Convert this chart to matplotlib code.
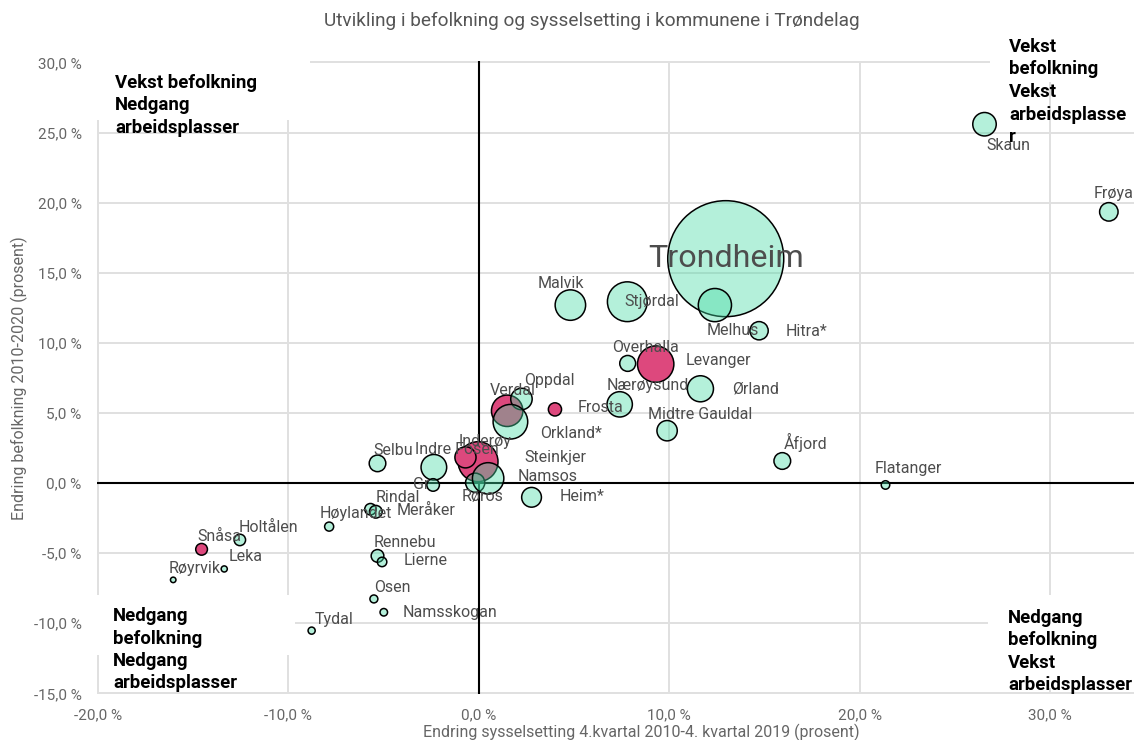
import matplotlib
matplotlib.use("Agg")
import matplotlib.pyplot as plt
from matplotlib.patches import Rectangle

plt.rcParams['font.family'] = ['Roboto', 'DejaVu Sans']

# ---------------- data ----------------
title = "Utvikling i befolkning og sysselsetting i kommunene i Trøndelag"
x_title = "Endring sysselsetting 4.kvartal 2010-4. kvartal 2019 (prosent)"
y_title = "Endring befolkning 2010-2020 (prosent)"

kommuner = ["Trondheim", "Melhus", "Hitra*", "Malvik", "Stjørdal", "Overhalla",
            "Levanger", "Nærøysund", "Ørland", "Midtre Gauldal", "Åfjord", "Skaun",
            "Frøya", "Flatanger", "Heim*", "Røros", "Namsos", "Steinkjer", "Inderøy",
            "Indre Fosen", "Selbu", "Grong", "Oppdal", "Verdal", "Orkland*", "Frosta",
            "Rindal", "Meråker", "Høylandet", "Holtålen", "Snåsa", "Leka", "Røyrvik",
            "Rennebu", "Lierne", "Osen", "Namsskogan", "Tydal"]

sysselsetting = [12.97, 12.40, 14.72, 4.81, 7.80, 7.82,
                 9.29, 7.40, 11.64, 9.89, 15.94, 26.56,
                 33.09, 21.36, 2.77, -0.19, 0.49, -0.04, -0.70,
                 -2.36, -5.32, -2.40, 2.24, 1.49, 1.66, 4.00,
                 -5.69, -5.41, -7.86, -12.55, -14.56, -13.37, -16.05,
                 -5.32, -5.08, -5.51, -4.99, -8.78]

befolkning = [16.0, 12.69, 10.86, 12.69, 12.93, 8.53,
              8.48, 5.61, 6.72, 3.73, 1.57, 25.59,
              19.34, -0.14, -1.02, 0.02, 0.33, 1.52, 1.83,
              1.12, 1.40, -0.14, 5.99, 5.15, 4.37, 5.25,
              -1.87, -2.05, -3.11, -4.06, -4.73, -6.13, -6.91,
              -5.20, -5.63, -8.27, -9.22, -10.53]

innbyggere = [205163, 16785, 5100, 14159, 24126, 3850,
              20164, 9775, 10364, 6300, 4250, 8400,
              5200, 1100, 5950, 5600, 15034, 24307, 6800,
              10014, 4200, 2400, 7000, 15038, 18262, 2650,
              2000, 2450, 1250, 2000, 2100, 570, 460,
              2450, 1370, 960, 860, 770]

innherred = ["Levanger", "Verdal", "Frosta", "Inderøy", "Snåsa", "Steinkjer"]

x_ticks = [-20, -10, 0, 10, 20, 30]
y_ticks = [-15, -10, -5, 0, 5, 10, 15, 20, 25, 30]

kvadrant_tekst = {
    "tl": "Vekst befolkning\nNedgang\narbeidsplasser",
    "tr": "Vekst\nbefolkning\nVekst\narbeidsplasse\nr",
    "bl": "Nedgang\nbefolkning\nNedgang\narbeidsplasser",
    "br": "Nedgang\nbefolkning\nVekst\narbeidsplasser",
}

# ---------------- layout / style ----------------
W, H, DPI = 1134, 740, 100
PX = 72.0 / DPI

# label offsets in pixels (dx right, dy down) relative to bubble centre
label_offset = {
    "Trondheim": (0, 0), "Melhus": (18, 25), "Hitra*": (47, 1), "Malvik": (-10, -22),
    "Stjørdal": (24, 0), "Overhalla": (18, -16), "Levanger": (63, -4),
    "Nærøysund": (28, -19), "Ørland": (55, 0), "Midtre Gauldal": (33, -16),
    "Åfjord": (23, -18), "Skaun": (24, 21), "Frøya": (5, -18), "Flatanger": (23, -16),
    "Heim*": (51, -1), "Røros": (7, 14), "Namsos": (59, -2), "Steinkjer": (77, -4),
    "Inderøy": (20, -16), "Indre Fosen": (23, -18), "Selbu": (16, -13),
    "Grong": (-12, 0), "Oppdal": (28, -19), "Verdal": (6, -20), "Orkland*": (61, 12),
    "Frosta": (46, -2), "Rindal": (27, -12), "Meråker": (50, -1),
    "Høylandet": (27, -13), "Holtålen": (29, -12), "Snåsa": (18, -13),
    "Leka": (21, -12), "Røyrvik": (21, -11), "Rennebu": (27, -13), "Lierne": (44, -1),
    "Osen": (18, -11), "Namsskogan": (66, 0), "Tydal": (22, -11),
}
label_text = {"Grong": "Gr"}

# axes in pixel geometry
ax_left, ax_right, ax_top, ax_bottom = 97, 1134, 61, 694
x0_px, x_scale = 478.8, 19.04
y0_px, y_scale = 483.0, 14.02

fig = plt.figure(figsize=(W / DPI, H / DPI), dpi=DPI)
ax = fig.add_axes([ax_left / W, 1 - ax_bottom / H,
                   (ax_right - ax_left) / W, (ax_bottom - ax_top) / H])
ax.set_xlim((ax_left - x0_px) / x_scale, (ax_right - x0_px) / x_scale)
ax.set_ylim((y0_px - ax_bottom) / y_scale, (y0_px - ax_top) / y_scale)

def px2x(p):
    return (p - x0_px) / x_scale

def px2y(p):
    return (y0_px - p) / y_scale

grid_col = "#e0e0e0"
tick_col = "#666666"
label_col = "#4d4d4d"

ax.set_xticks(x_ticks)
ax.set_yticks(y_ticks)
ax.set_xticklabels([f"{v:.1f} %".replace(".", ",") for v in x_ticks])
ax.set_yticklabels([f"{v:.1f} %".replace(".", ",") for v in y_ticks])
ax.tick_params(length=0, labelsize=11, colors=tick_col)
ax.tick_params(axis="x", pad=10)
ax.tick_params(axis="y", pad=11)
ax.grid(True, color=grid_col, lw=1.4, zorder=0.5)
ax.set_axisbelow(True)
for s in ax.spines.values():
    s.set_visible(False)

# white boxes behind the quadrant texts (hide gridlines there)
xl, xr = ax.get_xlim()
yb, yt = ax.get_ylim()
boxes = [
    (xl - 1, px2y(120), px2x(310) - (xl - 1), yt + 1 - px2y(120)),
    (px2x(990), px2y(82), xr + 1 - px2x(990), yt + 1 - px2y(82)),
    (xl - 1, px2y(655), px2x(295) - (xl - 1), px2y(595) - px2y(655)),
    (px2x(988), px2y(688), xr + 1 - px2x(988), px2y(595) - px2y(688)),
]
for bx, by, bw, bh in boxes:
    ax.add_patch(Rectangle((bx, by), bw, bh, facecolor="white", edgecolor="none", zorder=0.8))

# zero lines
ax.axhline(0, color="black", lw=1.5, zorder=1)
ax.axvline(0, color="black", lw=1.5, zorder=1)

# bubble sizes (area proportional to population)
zmax = max(innbyggere)
dmax_px = 116.0
sizes = [(dmax_px * (z / zmax) ** 0.5 * PX) ** 2 for z in innbyggere]

pink_idx = [i for i, k in enumerate(kommuner) if k in innherred]
green_idx = [i for i, k in enumerate(kommuner) if k not in innherred]

ax.scatter([sysselsetting[i] for i in pink_idx], [befolkning[i] for i in pink_idx],
           s=[sizes[i] for i in pink_idx], facecolor=(0.867, 0.282, 0.490, 1.0),
           edgecolor="black", linewidth=1.1, zorder=2)
ax.scatter([sysselsetting[i] for i in green_idx], [befolkning[i] for i in green_idx],
           s=[sizes[i] for i in green_idx], facecolor=(0.27, 0.855, 0.64, 0.4),
           edgecolor="black", linewidth=1.1, zorder=3)

for i, k in enumerate(kommuner):
    dx, dy = label_offset[k]
    fs = 23.2 if k == "Trondheim" else 11.5
    ax.annotate(label_text.get(k, k), (sysselsetting[i], befolkning[i]),
                xytext=(dx * PX, -dy * PX), textcoords="offset points",
                ha="center", va="center", fontsize=fs, color=label_col,
                zorder=4, annotation_clip=False)

# quadrant labels (pixel positions of first line centre, line spacing)
quad_pos = {"tl": (115, 83, 22.5), "tr": (1009, 47, 22.5),
            "bl": (113, 616, 22.5), "br": (1008, 618, 22.3)}
for key, txt in kvadrant_tekst.items():
    px, py, dy = quad_pos[key]
    for j, line in enumerate(txt.split("\n")):
        fig.text(px / W, 1 - (py + j * dy) / H, line, ha="left", va="center",
                 fontsize=13.4, fontweight="bold", color="black")

fig.text(592 / W, 1 - 21 / H, title, ha="center", va="center", fontsize=13.7, color="#555555")
fig.text(641 / W, 1 - 732 / H, x_title, ha="center", va="center", fontsize=11.5, color=tick_col)
fig.text(19 / W, 1 - 378 / H, y_title, ha="center", va="center", rotation=90,
         fontsize=11.5, color=tick_col)

fig.savefig("out.png", dpi=DPI)
